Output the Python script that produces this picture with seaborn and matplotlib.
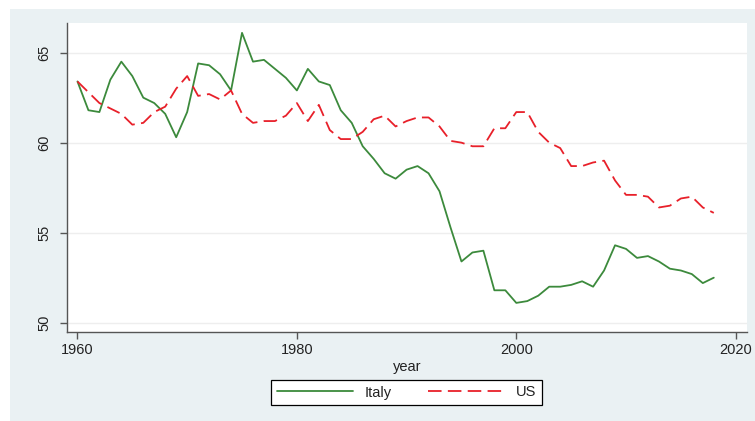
import numpy as np
import pandas as pd
import matplotlib
matplotlib.use("Agg")
import matplotlib.pyplot as plt
from matplotlib.patches import Rectangle
from matplotlib.lines import Line2D
import seaborn as sns

years = list(range(1960, 2019))

italy = [63.4, 61.8, 61.7, 63.5, 64.5, 63.7, 62.5, 62.2, 61.6, 60.3,
         61.7, 64.4, 64.3, 63.8, 62.9, 66.1, 64.5, 64.6, 64.1, 63.6,
         62.9, 64.1, 63.4, 63.2, 61.8, 61.1, 59.8, 59.1, 58.3, 58.0,
         58.5, 58.7, 58.3, 57.3, 55.3, 53.4, 53.9, 54.0, 51.8, 51.8,
         51.1, 51.2, 51.5, 52.0, 52.0, 52.1, 52.3, 52.0, 52.9, 54.3,
         54.1, 53.6, 53.7, 53.4, 53.0, 52.9, 52.7, 52.2, 52.5]

us = [63.4, 62.8, 62.2, 61.9, 61.6, 61.0, 61.1, 61.7, 62.0, 63.0,
      63.7, 62.6, 62.7, 62.4, 62.9, 61.6, 61.1, 61.2, 61.2, 61.5,
      62.2, 61.2, 62.1, 60.7, 60.2, 60.2, 60.6, 61.3, 61.5, 60.9,
      61.2, 61.4, 61.4, 60.9, 60.1, 60.0, 59.8, 59.8, 60.8, 60.8,
      61.7, 61.7, 60.6, 60.0, 59.7, 58.7, 58.7, 58.9, 59.0, 57.9,
      57.1, 57.1, 57.0, 56.4, 56.5, 56.9, 57.0, 56.4, 56.1]

series_names = ["Italy", "US"]
x_ticks = [1960, 1980, 2000, 2020]
y_ticks = [50, 55, 60, 65]

df = pd.DataFrame({
    "year": years * 2,
    "value": italy + us,
    "country": ["Italy"] * len(years) + ["US"] * len(years),
})

sns.set_theme(style="white")
plt.rcParams["font.family"] = ["Liberation Sans", "DejaVu Sans"]

green = "#3c8a3c"
red = "#e8202a"
us_dash = (7.5, 3.5)
palette = {"Italy": green, "US": red}
dashes = {"Italy": "", "US": us_dash}
text_color = "#222222"
fs = 10.5

fig = plt.figure(figsize=(7.55, 4.21), dpi=100, facecolor="white")
# bluish-gray graph region behind the plot area
fig.patches.append(Rectangle((10 / 755, 0), 1, 1 - 9 / 421,
                             transform=fig.transFigure,
                             facecolor="#eaf1f3", edgecolor="none", zorder=-10))

ax = fig.add_axes([66.7 / 755, 89.3 / 421, 680 / 755, 308.4 / 421])
ax.set_zorder(1)
ax.set_facecolor("white")

sns.lineplot(data=df, x="year", y="value", hue="country", style="country",
             palette=palette, dashes=dashes, linewidth=1.3, ax=ax,
             legend=False)

ax.set_xlim(1959.02, 2021.0)
ax.set_ylim(49.5, 66.63)
ax.set_xticks(x_ticks)
ax.set_yticks(y_ticks)
ax.set_xticklabels([str(t) for t in x_ticks], fontsize=fs, color=text_color)
ax.set_yticklabels([str(t) for t in y_ticks], fontsize=fs, color=text_color,
                   rotation=90, va="center")
ax.set_xlabel("year", fontsize=fs, color=text_color, labelpad=2)
ax.set_ylabel("")

ax.grid(axis="y", color="#eeeeee", linewidth=1.0)
ax.set_axisbelow(True)
for side in ["top", "right"]:
    ax.spines[side].set_visible(False)
for side in ["left", "bottom"]:
    ax.spines[side].set_color("#555555")
    ax.spines[side].set_linewidth(1.0)
ax.tick_params(axis="both", direction="out", length=5, width=1.0,
               color="#555555", left=True, bottom=True, pad=3)
ax.tick_params(axis="y", pad=6)

handles = [Line2D([], [], color=green, linewidth=1.3),
           Line2D([], [], color=red, linewidth=1.3, dashes=us_dash)]
leg = fig.legend(handles, series_names, loc="center",
                 bbox_to_anchor=(406.5 / 755, 1 - 392.5 / 421), ncol=2,
                 frameon=True, fancybox=False, fontsize=fs, framealpha=1,
                 handlelength=5.2, columnspacing=2.5, handletextpad=0.8,
                 borderpad=0.4)
leg.get_frame().set_edgecolor("black")
leg.get_frame().set_linewidth(0.9)
leg.get_frame().set_facecolor("white")
for t in leg.get_texts():
    t.set_color(text_color)

fig.savefig("out.png", dpi=100, facecolor="white")
